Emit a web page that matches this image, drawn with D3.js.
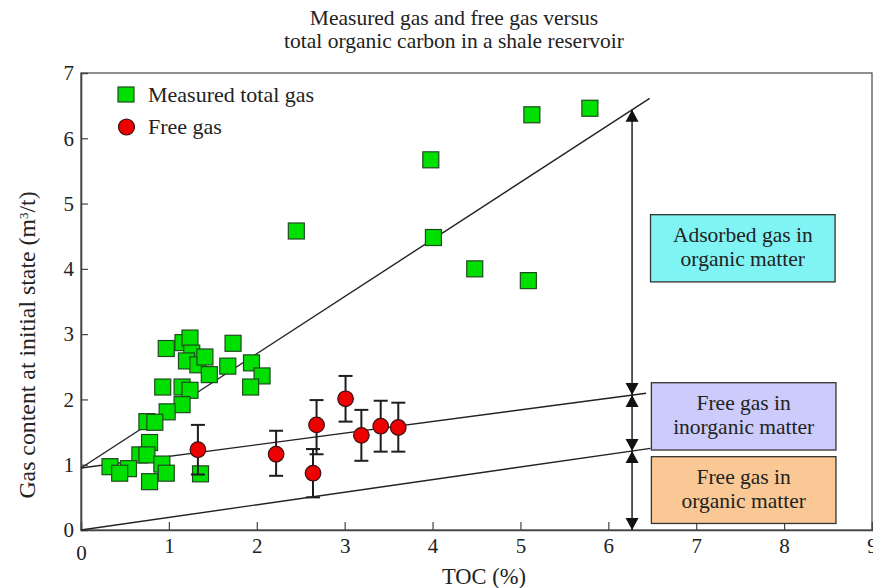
<!DOCTYPE html>
<html>
<head>
<meta charset="utf-8">
<script src="https://cdn.jsdelivr.net/npm/d3@7"></script>
<style>
  html, body { margin: 0; padding: 0; background: #fff; }
  svg { display: block; }
  text { font-family: "Liberation Serif", "Times New Roman", serif; fill: #222; }
</style>
</head>
<body>
<svg id="chart" width="873" height="588"></svg>
<script>
// Measured total gas content (TOC %, m3/t)
const totalToc = [5.13, 5.79, 3.98, 4.01, 4.48, 5.09, 2.45,
  0.97, 1.16, 1.24, 1.73, 1.26, 1.20, 1.33, 1.41, 1.46, 1.67, 1.94, 2.06, 1.93,
  0.93, 1.15, 1.24, 1.15, 0.98, 0.75, 0.84, 0.78, 0.67, 0.75, 0.33, 0.54, 0.44,
  0.92, 0.97, 0.78, 1.36];
const totalGas = [6.36, 6.46, 5.67, 4.48, 4.00, 3.82, 4.58,
  2.78, 2.87, 2.94, 2.86, 2.71, 2.59, 2.53, 2.65, 2.38, 2.51, 2.56, 2.36, 2.19,
  2.19, 2.19, 2.14, 1.92, 1.81, 1.66, 1.65, 1.34, 1.15, 1.15, 0.97, 0.94, 0.87,
  1.01, 0.87, 0.74, 0.86];

// Free gas with error range
const freeToc   = [1.33, 2.22, 2.68, 2.64, 3.01, 3.19, 3.41, 3.61];
const freeGas   = [1.23, 1.16, 1.61, 0.87, 2.01, 1.45, 1.59, 1.57];
const freeLow   = [0.85, 0.83, 1.16, 0.50, 1.66, 1.06, 1.20, 1.20];
const freeHigh  = [1.61, 1.52, 1.99, 1.24, 2.36, 1.84, 1.98, 1.95];

// Trend lines: intercept, slope, end TOC
const lineNames      = ["total", "freeInorganic", "freeOrganic"];
const lineIntercepts = [0.95, 0.95, 0];
const lineSlopes     = [0.875, 0.178, 0.193];
const lineEnds       = [6.47, 6.43, 6.48];

const xTicks = [0, 1, 2, 3, 4, 5, 6, 7, 8, 9];
const yTicks = [0, 1, 2, 3, 4, 5, 6, 7];

const boxLabels = [
  ["Adsorbed gas in", "organic matter"],
  ["Free gas in", "inorganic matter"],
  ["Free gas in", "organic matter"]
];

const svg = d3.select("#chart");
const x = d3.scaleLinear().domain([0, 9]).range([81, 872]);
const y = d3.scaleLinear().domain([0, 7]).range([530, 73]);

const GREEN = "#00e000", RED = "#ee0000", INK = "#1d1d1d";

// Title
svg.append("text").attr("x", 454).attr("y", 25).attr("text-anchor", "middle")
  .style("font-size", "21.5px").text("Measured gas and free gas versus");
svg.append("text").attr("x", 454).attr("y", 48).attr("text-anchor", "middle")
  .style("font-size", "21.5px").text("total organic carbon in a shale reservoir");

// Frame
svg.append("rect").attr("x", x(0)).attr("y", y(7))
  .attr("width", x(9) - x(0)).attr("height", y(0) - y(7))
  .attr("fill", "none").attr("stroke", "#555").attr("stroke-width", 1.3);

// Axes with inward ticks
const xAxis = svg.append("g").attr("transform", `translate(0,${y(0)})`)
  .call(d3.axisBottom(x).tickValues(xTicks).tickSize(-8).tickPadding(8).tickFormat(d3.format("d")));
const yAxis = svg.append("g").attr("transform", `translate(${x(0)},0)`)
  .call(d3.axisLeft(y).tickValues(yTicks).tickSize(-7).tickPadding(7).tickFormat(d3.format("d")));
[xAxis, yAxis].forEach(g => {
  g.select(".domain").attr("stroke", "#444").attr("stroke-width", 1.6);
  g.selectAll(".tick line").attr("stroke", "#444").attr("stroke-width", 1.2);
  g.selectAll(".tick text").style("font-family", "Liberation Serif, serif")
    .style("font-size", "21px").attr("fill", "#222");
});
xAxis.selectAll(".tick").filter(d => d === 0).select("line").remove();
xAxis.selectAll(".tick").filter(d => d === 0).select("text").attr("y", 15);
yAxis.selectAll(".tick").filter(d => d === 0 || d === 7).select("line").remove();

// Axis titles
svg.append("text").attr("x", 484).attr("y", 584).attr("text-anchor", "middle")
  .style("font-size", "22.5px").text("TOC (%)");
const yt = svg.append("text").attr("transform", "translate(35,345) rotate(-90)")
  .attr("text-anchor", "middle").style("font-size", "23.8px");
yt.append("tspan").text("Gas content at initial state (m");
yt.append("tspan").attr("baseline-shift", "super").style("font-size", "13px").text("3");
yt.append("tspan").text("/t)");

// Trend lines
const lines = lineNames.map((n, i) => ({ b: lineIntercepts[i], m: lineSlopes[i], end: lineEnds[i] }));
svg.append("g").selectAll("line").data(lines).join("line")
  .attr("x1", x(0)).attr("y1", d => y(d.b))
  .attr("x2", d => x(d.end)).attr("y2", d => y(d.b + d.m * d.end))
  .attr("stroke", "#222").attr("stroke-width", 1.4);

// Green squares
const sq = 16;
svg.append("g").selectAll("rect").data(totalToc.map((t, i) => [t, totalGas[i]])).join("rect")
  .attr("x", d => x(d[0]) - sq / 2).attr("y", d => y(d[1]) - sq / 2)
  .attr("width", sq).attr("height", sq)
  .attr("fill", GREEN).attr("stroke", "#1f4a1f").attr("stroke-width", 1.2);

// Free gas error bars and points
const free = freeToc.map((t, i) => ({ t, v: freeGas[i], lo: freeLow[i], hi: freeHigh[i] }));
const eb = svg.append("g").attr("stroke", INK).attr("stroke-width", 2);
free.forEach(d => {
  eb.append("line").attr("x1", x(d.t)).attr("x2", x(d.t)).attr("y1", y(d.lo)).attr("y2", y(d.hi));
  [d.lo, d.hi].forEach(v => eb.append("line")
    .attr("x1", x(d.t) - 7).attr("x2", x(d.t) + 7).attr("y1", y(v)).attr("y2", y(v)));
});
svg.append("g").selectAll("circle").data(free).join("circle")
  .attr("cx", d => x(d.t)).attr("cy", d => y(d.v)).attr("r", 7.8)
  .attr("fill", RED).attr("stroke", "#3a1010").attr("stroke-width", 1.2);

// Double arrows marking the gas components at TOC 6.27
const arrowX = 6.27;
const at = l => l.b + l.m * arrowX;
const bounds = [at(lines[0]), at(lines[1]), at(lines[2]), 0];
const ag = svg.append("g");
const head = (px, py, dir) => ag.append("path")
  .attr("d", `M${px},${py} L${px - 6.5},${py - dir * 12} L${px + 6.5},${py - dir * 12} Z`)
  .attr("fill", "#111");
for (let i = 0; i < 3; i++) {
  const px = x(arrowX), top = y(bounds[i]), bot = y(bounds[i + 1]);
  ag.append("line").attr("x1", px).attr("x2", px).attr("y1", top).attr("y2", bot)
    .attr("stroke", "#222").attr("stroke-width", 1.5);
  head(px, top, -1);
  head(px, bot, 1);
}

// Component boxes
const boxes = [
  { x0: 6.48, x1: 8.58, y0: 3.80, y1: 4.83, fill: "#80f4f4" },
  { x0: 6.49, x1: 8.59, y0: 1.225, y1: 2.256, fill: "#cdcbfb" },
  { x0: 6.49, x1: 8.59, y0: 0.10, y1: 1.123, fill: "#f9c894" }
];
boxes.forEach((b, i) => {
  svg.append("rect").attr("x", x(b.x0)).attr("y", y(b.y1))
    .attr("width", x(b.x1) - x(b.x0)).attr("height", y(b.y0) - y(b.y1))
    .attr("fill", b.fill).attr("stroke", "#333").attr("stroke-width", 1.3);
  const cx = (x(b.x0) + x(b.x1)) / 2, cy = (y(b.y0) + y(b.y1)) / 2;
  boxLabels[i].forEach((s, j) => svg.append("text").attr("x", cx).attr("y", cy - 6 + j * 24)
    .attr("text-anchor", "middle").style("font-size", "21.5px").text(s));
});

// Legend
const lg = svg.append("g");
lg.append("rect").attr("x", 118).attr("y", 87).attr("width", 16).attr("height", 15)
  .attr("fill", GREEN).attr("stroke", "#1f4a1f").attr("stroke-width", 1.2);
lg.append("text").attr("x", 148).attr("y", 102).style("font-size", "22px").text("Measured total gas");
lg.append("circle").attr("cx", 126.5).attr("cy", 127).attr("r", 8)
  .attr("fill", RED).attr("stroke", "#3a1010").attr("stroke-width", 1.2);
lg.append("text").attr("x", 148).attr("y", 134).style("font-size", "22px").text("Free gas");
</script>
</body>
</html>
